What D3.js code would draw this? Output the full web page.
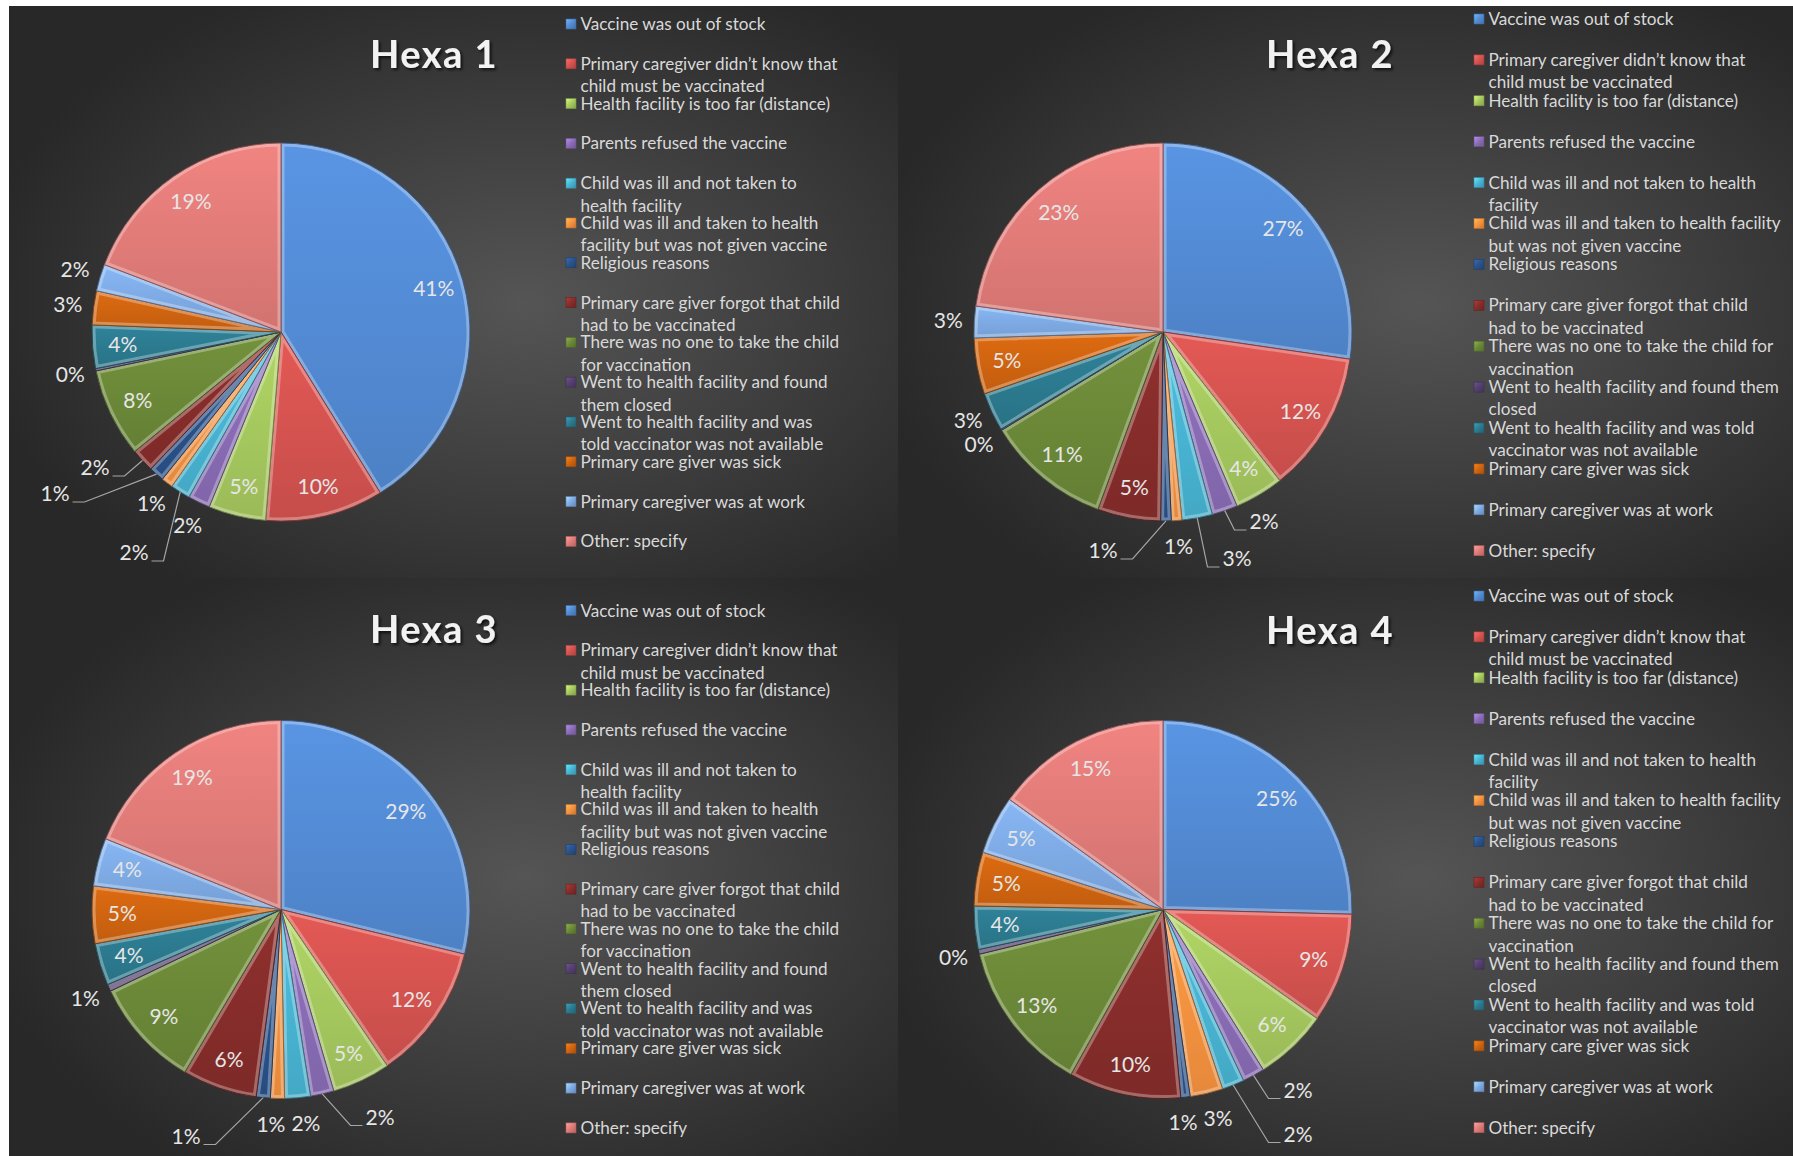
<!DOCTYPE html>
<html>
<head>
<meta charset="utf-8">
<script src="https://cdn.jsdelivr.net/npm/d3@7"></script>
<style>
  body { margin: 0; background: #ffffff; }
  svg { display: block; }
</style>
</head>
<body>
<div id="chart"></div>
<script>
// reasons for non-vaccination, same order as slices (clockwise from 12 o'clock)
const legendNarrow = [
    "Vaccine was out of stock",
    "Primary caregiver didn’t know that|child must be vaccinated",
    "Health facility is too far (distance)",
    "Parents refused the vaccine",
    "Child was ill and not taken to|health facility",
    "Child was ill and taken to health|facility but was not given vaccine",
    "Religious reasons",
    "Primary care giver forgot that child|had to be vaccinated",
    "There was no one to take the child|for vaccination",
    "Went to health facility and found|them closed",
    "Went to health facility and was|told vaccinator was not available",
    "Primary care giver was sick",
    "Primary caregiver was at work",
    "Other: specify"
];
const legendWide = [
    "Vaccine was out of stock",
    "Primary caregiver didn’t know that|child must be vaccinated",
    "Health facility is too far (distance)",
    "Parents refused the vaccine",
    "Child was ill and not taken to health|facility",
    "Child was ill and taken to health facility|but was not given vaccine",
    "Religious reasons",
    "Primary care giver forgot that child|had to be vaccinated",
    "There was no one to take the child for|vaccination",
    "Went to health facility and found them|closed",
    "Went to health facility and was told|vaccinator was not available",
    "Primary care giver was sick",
    "Primary caregiver was at work",
    "Other: specify"
];

// percentages per chart
const hexa1 = [41.2, 10.1, 4.9, 1.9, 1.7, 1.0, 1.3, 2.0, 7.6, 0.2, 3.7, 2.9, 2.3, 19.2];
const hexa2 = [27.3, 12.1, 4.2, 2.2, 2.6, 0.9, 0.9, 5.4, 10.7, 0.1, 3.3, 4.8, 2.7, 22.8];
const hexa3 = [28.8, 11.7, 5.0, 2.0, 2.2, 1.2, 1.2, 6.4, 9.4, 0.6, 3.6, 4.9, 4.1, 18.9];
const hexa4 = [25.4, 9.4, 6.3, 1.9, 1.9, 2.8, 0.8, 9.6, 13.1, 0.4, 3.7, 4.6, 5.0, 15.1];

const colors = ["#538bd4", "#d4534f", "#a5c85e", "#8a6cb6", "#48b4d3", "#f7923f", "#2a528a",
                "#862d2b", "#6b8838", "#533f6e", "#2c7a8f", "#cf6410", "#7eaae4", "#e07b78"];

// layout of the 4 charts (callouts = label offsets from pie centre for crowded small slices)
const panels = [
    {title: "Hexa 1", values: hexa1, legend: legendNarrow, box: [9, 6, 889, 572],
     cx: 281, cy: 332, titleX: 434, titleY: 68, legX: 566, legY: 24, legStep: 39.8,
     callouts: {4: [-147, 221], 6: [-226, 162], 7: [-186, 136]}},
    {title: "Hexa 2", values: hexa2, legend: legendWide, box: [898, 6, 895, 572],
     cx: 1163, cy: 332, titleX: 1330, titleY: 68, legX: 1474, legY: 19, legStep: 40.9,
     callouts: {6: [-60, 219], 4: [74, 227], 3: [101, 190]}},
    {title: "Hexa 3", values: hexa3, legend: legendNarrow, box: [9, 578, 889, 578],
     cx: 281, cy: 909.5, titleX: 434, titleY: 643, legX: 566, legY: 610.5, legStep: 39.8,
     callouts: {6: [-95, 227], 3: [99, 208]}},
    {title: "Hexa 4", values: hexa4, legend: legendWide, box: [898, 578, 895, 578],
     cx: 1163, cy: 909.5, titleX: 1330, titleY: 644, legX: 1474, legY: 596, legStep: 40.9,
     callouts: {3: [135, 181], 4: [135, 225]}}
];

var W = 1793, H = 1156;
var R = 189;

var svg = d3.select("#chart").append("svg")
    .attr("width", W)
    .attr("height", H);
var defs = svg.append("defs");

// background gradient of each chart area
var bg = defs.append("radialGradient").attr("id", "bg")
    .attr("cx", 0.58).attr("cy", 0.52).attr("r", 0.62);
bg.append("stop").attr("offset", 0).attr("stop-color", "#555555");
bg.append("stop").attr("offset", 1).attr("stop-color", "#282828");

// slice gradients (lighter top, darker bottom)
colors.forEach((c, i) => {
    var lg = defs.append("linearGradient").attr("id", "sg" + i)
        .attr("x1", 0).attr("y1", 0).attr("x2", 0).attr("y2", 1);
    lg.append("stop").attr("offset", 0).attr("stop-color", d3.color(c).brighter(0.2));
    lg.append("stop").attr("offset", 1).attr("stop-color", d3.color(c).darker(0.2));
    var mg = defs.append("linearGradient").attr("id", "mg" + i)
        .attr("x1", 0).attr("y1", 0).attr("x2", 1).attr("y2", 1);
    mg.append("stop").attr("offset", 0).attr("stop-color", d3.color(c).brighter(0.8));
    mg.append("stop").attr("offset", 0.5).attr("stop-color", c);
    mg.append("stop").attr("offset", 1).attr("stop-color", d3.color(c).darker(0.6));
});

var shadow = defs.append("filter").attr("id", "tshadow")
    .attr("x", "-10%").attr("y", "-20%").attr("width", "130%").attr("height", "160%");
shadow.append("feDropShadow").attr("dx", 2).attr("dy", 2).attr("stdDeviation", 1.5)
    .attr("flood-color", "#000").attr("flood-opacity", 0.7);

// legend font size fitted to the width of the first entry (185px in the original)
var probe = svg.append("text").style("font-family", "Lato").style("font-size", "17px")
    .text("Vaccine was out of stock");
var legendSize = 17 * 185 / probe.node().getComputedTextLength();
probe.remove();

var pie = d3.pie().sort(null).value(d => d);
var arc = d3.arc().innerRadius(0).outerRadius(R);
var arcIn = d3.arc().innerRadius(R * 0.84).outerRadius(R * 0.84);
var arcOut = d3.arc().innerRadius(R + 26).outerRadius(R + 26);
var arcRim = d3.arc().innerRadius(R).outerRadius(R);

panels.forEach((p, pi) => {
    // chart area
    svg.append("rect")
        .attr("x", p.box[0]).attr("y", p.box[1])
        .attr("width", p.box[2]).attr("height", p.box[3])
        .attr("fill", "url(#bg)");

    // title
    svg.append("text")
        .attr("x", p.titleX).attr("y", p.titleY)
        .attr("text-anchor", "middle")
        .style("font-family", "Lato")
        .style("font-weight", "bold")
        .style("font-size", "38px")
        .style("letter-spacing", "1.5px")
        .style("fill", "#f2f2f2")
        .attr("filter", "url(#tshadow)")
        .text(p.title);

    // pie
    var g = svg.append("g").attr("transform", "translate(" + p.cx + "," + p.cy + ")");
    var arcs = pie(p.values);

    var slice = g.selectAll("g.slice")
        .data(arcs)
        .enter().append("g")
        .attr("class", "slice");

    slice.append("clipPath")
        .attr("id", (d, i) => "clip" + pi + "_" + i)
        .append("path").attr("d", arc);

    slice.append("path")
        .attr("d", arc)
        .attr("fill", (d, i) => "url(#sg" + i + ")");

    // bevel: light inner edge
    slice.append("path")
        .attr("d", arc)
        .attr("fill", "none")
        .attr("stroke", "#ffffff")
        .attr("stroke-opacity", 0.3)
        .attr("stroke-width", 7)
        .attr("clip-path", (d, i) => "url(#clip" + pi + "_" + i + ")");

    slice.append("path")
        .attr("d", arc)
        .attr("fill", "none")
        .attr("stroke", (d, i) => d3.color(colors[i]).darker(1.3))
        .attr("stroke-width", 0.9)
        .attr("stroke-linejoin", "round");

    // data labels
    var outside = [];
    arcs.forEach((d, i) => {
        var v = p.values[i];
        var pos, callout = p.callouts[i];
        if (v >= 3.5) pos = arcIn.centroid(d);
        else if (callout) pos = callout;
        else pos = arcOut.centroid(d);

        var t = g.append("text")
            .attr("x", pos[0]).attr("y", pos[1])
            .attr("dy", "0.35em")
            .attr("text-anchor", "middle")
            .style("font-family", "Lato")
            .style("font-size", "21px")
            .style("fill", "#e6e6e6")
            .text(Math.round(v) + "%");
        var w = t.node().getComputedTextLength();

        if (v < 3.5 && callout) {
            var rim = arcRim.centroid(d);
            var left = pos[0] < rim[0];
            var x0 = left ? pos[0] + w / 2 + 3 : pos[0] - w / 2 - 3;
            var x1 = left ? x0 + 12 : x0 - 12;
            var y0 = pos[1] + 8;
            g.append("path")
                .attr("d", "M" + x0 + "," + y0 + "L" + x1 + "," + y0 + "L" + rim[0] + "," + rim[1])
                .attr("fill", "none")
                .attr("stroke", "#a6a6a6")
                .attr("stroke-width", 1.2);
        }
        if (v < 3.5) outside.push({t: t, x: pos[0], y: pos[1], w: w, h: 22, fixed: !!callout});
    });

    // push overlapping outside labels apart
    for (var it = 0; it < 40; it++) {
        for (var a = 0; a < outside.length; a++) {
            for (var b = a + 1; b < outside.length; b++) {
                var A = outside[a], B = outside[b];
                var ox = (A.w + B.w) / 2 + 6 - Math.abs(A.x - B.x);
                var oy = (A.h + B.h) / 2 + 2 - Math.abs(A.y - B.y);
                if (ox <= 0 || oy <= 0) continue;
                var fa = A.fixed ? 0 : (B.fixed ? 1 : 0.5), fb = 1 - fa;
                if (A.fixed && B.fixed) continue;
                if (ox < oy) {
                    var sx = A.x <= B.x ? -1 : 1;
                    A.x += sx * ox * fa; B.x -= sx * ox * fb;
                } else {
                    var sy = A.y <= B.y ? -1 : 1;
                    A.y += sy * oy * fa; B.y -= sy * oy * fb;
                }
            }
        }
    }
    outside.forEach(o => o.t.attr("x", o.x).attr("y", o.y));

    // legend
    var lg = svg.append("g").attr("transform", "translate(" + p.legX + "," + p.legY + ")");
    p.legend.forEach((lab, i) => {
        var y = i * p.legStep;
        lg.append("rect")
            .attr("x", 0).attr("y", y - 5)
            .attr("width", 10).attr("height", 10)
            .attr("fill", "url(#mg" + i + ")")
            .attr("stroke", d3.color(colors[i]).darker(0.8))
            .attr("stroke-width", 0.6);
        var t = lg.append("text")
            .style("font-family", "Lato")
            .style("font-size", legendSize + "px")
            .style("fill", "#d9d9d9");
        lab.split("|").forEach((line, k) => {
            t.append("tspan")
                .attr("x", 14.5)
                .attr("y", y + k * 22.4)
                .attr("dy", "0.35em")
                .text(line);
        });
    });
});
</script>
</body>
</html>
